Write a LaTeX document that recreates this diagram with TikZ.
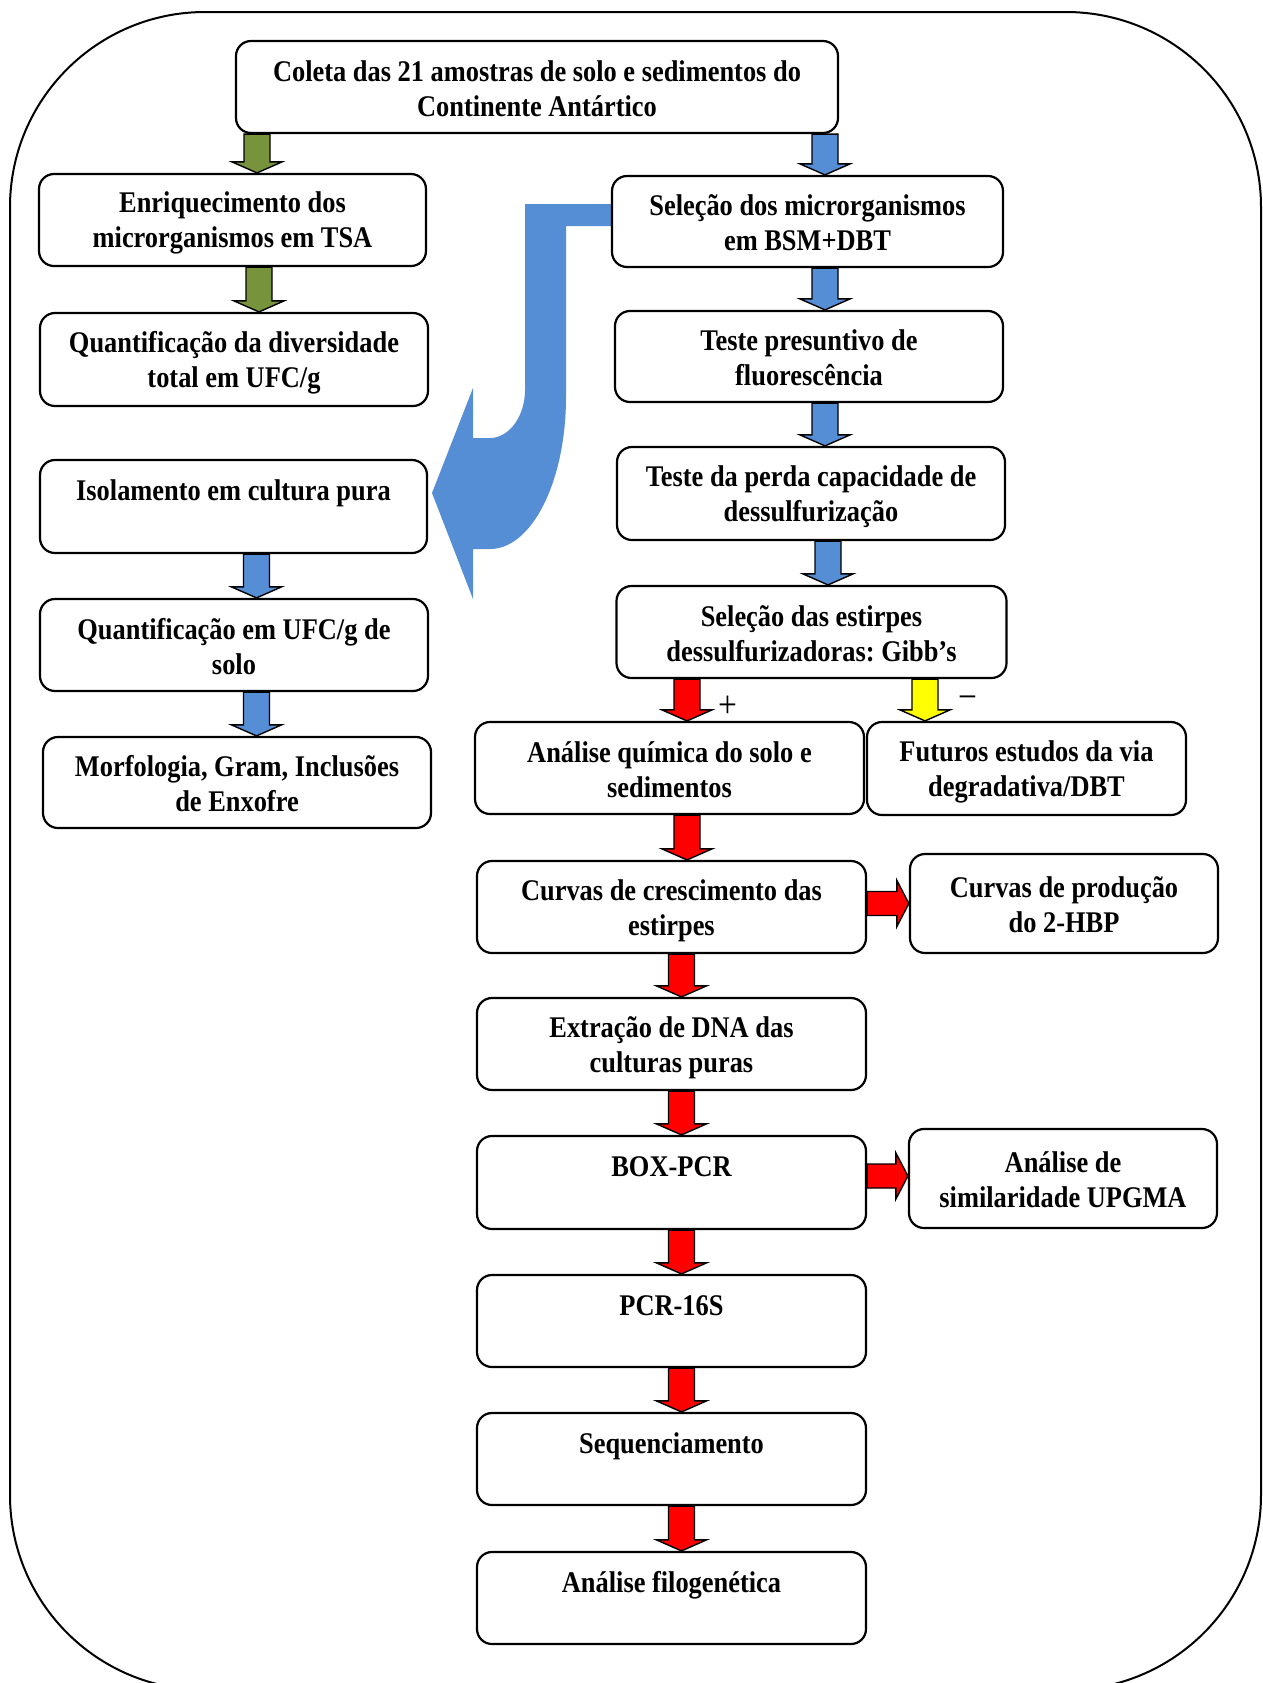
\documentclass[tikz,border=0pt]{standalone}
\usepackage{fontspec}
\setmainfont{Liberation Serif}[FakeStretch=0.88]
\usetikzlibrary{calc}
\frenchspacing
\definecolor{arrblue}{HTML}{558ED5}
\definecolor{arrgreen}{HTML}{77933C}
\definecolor{arrred}{HTML}{FF0000}
\definecolor{arryellow}{HTML}{FFFF00}
\newcommand\Sx{\rule[-2pt]{0pt}{15.7pt}}
% down block arrow: #1 x (px), #2 from node, #3 to node, #4 fill colour
\newcommand\darrow[4]{%
  \filldraw[fill=#4, draw=black, line width=0.7pt, line join=miter]
   let \p1=(#2.south), \p2=(#3.north), \n1={#1*0.5} in
   ({(\n1-6.5)*1pt},\y1) -- ({(\n1+6.5)*1pt},\y1) -- ({(\n1+6.5)*1pt},{\y2+5.5pt})
   -- ({(\n1+12.5)*1pt},{\y2+5.5pt}) -- ({\n1*1pt},\y2) -- ({(\n1-12.5)*1pt},{\y2+5.5pt})
   -- ({(\n1-6.5)*1pt},{\y2+5.5pt}) -- cycle;}
% right block arrow: #1 y (px), #2 from node, #3 to node, #4 fill colour
\newcommand\rarrow[4]{%
  \filldraw[fill=#4, draw=black, line width=0.7pt, line join=miter]
   let \p1=(#2.east), \p2=(#3.west), \n1={-#1*0.5} in
   (\x1,{(\n1+6)*1pt}) -- ({\x2-6pt},{(\n1+6)*1pt}) -- ({\x2-6pt},{(\n1+11.5)*1pt})
   -- (\x2,{\n1*1pt}) -- ({\x2-6pt},{(\n1-11.5)*1pt}) -- ({\x2-6pt},{(\n1-6)*1pt})
   -- (\x1,{(\n1-6)*1pt}) -- cycle;}
\tikzset{
  box/.style={draw, line width=1.1pt, rounded corners=7.5pt, inner sep=0pt,
    align=center, fill=white, font=\bfseries\fontsize{15}{17.5}\selectfont},
  sign/.style={inner sep=0pt, font=\fontsize{19}{20}\selectfont}
}
\begin{document}
\begin{tikzpicture}[x=0.5pt,y=-0.5pt]
\useasboundingbox (0,0) rectangle (1263,1683);
% outer frame
\draw[line width=1pt, rounded corners=97.5pt] (10,12) rectangle (1261,1690);

% big curved blue arrow
\fill[arrblue] (613,204) -- (525,204) -- (525,390)
  .. controls (525,416.5) and (509,438) .. (490,438) -- (473,438) -- (473,388)
  -- (432,493) -- (473,599) -- (473,549) -- (490,549)
  .. controls (532,549) and (566,481) .. (566,397) -- (566,226) -- (613,226) -- cycle;

% boxes
\node[box, minimum width=301pt, minimum height=46pt] (coleta) at (537,87)
  {\Sx Coleta das 21 amostras de solo e sedimentos do\\\Sx Continente Antártico};
\node[box, minimum width=193.5pt, minimum height=46pt] (enr) at (232.5,220)
  {\Sx Enriquecimento dos\\\Sx microrganismos em TSA};
\node[box, minimum width=194pt, minimum height=46.5pt] (quanta) at (234,359.5)
  {\Sx Quantificação da diversidade\\\Sx total em UFC/g};
\node[box, minimum width=193.5pt, minimum height=46.5pt] (iso) at (233.5,506.5)
  {\Sx Isolamento em cultura pura\\\Sx};
\node[box, minimum width=194pt, minimum height=46pt] (quantb) at (234,645)
  {\Sx Quantificação em UFC/g de\\\Sx solo};
\node[box, minimum width=194pt, minimum height=45.5pt] (morf) at (237,782.5)
  {\Sx Morfologia, Gram, Inclusões\\\Sx de Enxofre};
\node[box, minimum width=195.5pt, minimum height=45.5pt] (sela) at (807.5,221.5)
  {\Sx Seleção dos microrganismos\\\Sx em BSM+DBT};
\node[box, minimum width=194pt, minimum height=45.5pt] (testa) at (809,356.5)
  {\Sx Teste presuntivo de\\\Sx fluorescência};
\node[box, minimum width=194pt, minimum height=46.5pt] (testb) at (811,493.5)
  {\Sx Teste da perda capacidade de\\\Sx dessulfurização};
\node[box, minimum width=195pt, minimum height=46pt] (selb) at (811.5,632)
  {\Sx Seleção das estirpes\\\Sx dessulfurizadoras: Gibb’s};
\node[box, minimum width=194.5pt, minimum height=46pt] (quim) at (669.5,768)
  {\Sx Análise química do solo e\\\Sx sedimentos};
\node[box, minimum width=159.5pt, minimum height=46.5pt] (fut) at (1026.5,768.5)
  {\Sx Futuros estudos da via\\\Sx degradativa/DBT};
\node[box, minimum width=194.5pt, minimum height=46pt] (curva) at (671.5,907)
  {\Sx Curvas de crescimento das\\\Sx estirpes};
\node[box, minimum width=154pt, minimum height=49.5pt] (curvb) at (1064,903.5)
  {\Sx Curvas de produção\\\Sx do 2-HBP};
\node[box, minimum width=194.5pt, minimum height=46pt] (extr) at (671.5,1044)
  {\Sx Extração de DNA das\\\Sx culturas puras};
\node[box, minimum width=194.5pt, minimum height=46.5pt] (boxpcr) at (671.5,1182.5)
  {\Sx BOX-PCR\\\Sx};
\node[box, minimum width=154pt, minimum height=49.5pt] (simil) at (1063,1178.5)
  {\Sx Análise de\\\Sx similaridade UPGMA};
\node[box, minimum width=194.5pt, minimum height=46pt] (pcr) at (671.5,1321)
  {\Sx PCR-16S\\\Sx};
\node[box, minimum width=194.5pt, minimum height=46pt] (seq) at (671.5,1459)
  {\Sx Sequenciamento\\\Sx};
\node[box, minimum width=194.5pt, minimum height=46pt] (filo) at (671.5,1598)
  {\Sx Análise filogenética\\\Sx};

% block arrows
\darrow{257}{coleta}{enr}{arrgreen}
\darrow{259}{enr}{quanta}{arrgreen}
\darrow{825}{coleta}{sela}{arrblue}
\darrow{825}{sela}{testa}{arrblue}
\darrow{825}{testa}{testb}{arrblue}
\darrow{828}{testb}{selb}{arrblue}
\darrow{256.5}{iso}{quantb}{arrblue}
\darrow{256.5}{quantb}{morf}{arrblue}
\darrow{687}{selb}{quim}{arrred}
\darrow{925}{selb}{fut}{arryellow}
\darrow{687}{quim}{curva}{arrred}
\darrow{681.5}{curva}{extr}{arrred}
\darrow{681.5}{extr}{boxpcr}{arrred}
\darrow{681.5}{boxpcr}{pcr}{arrred}
\darrow{681.5}{pcr}{seq}{arrred}
\darrow{681.5}{seq}{filo}{arrred}
\rarrow{903.5}{curva}{curvb}{arrred}
\rarrow{1176}{boxpcr}{simil}{arrred}

% signs
\node[sign] (plus) at (728,707) {+};
\node[sign] (minus) at (968,703) {−};
\end{tikzpicture}
\end{document}
